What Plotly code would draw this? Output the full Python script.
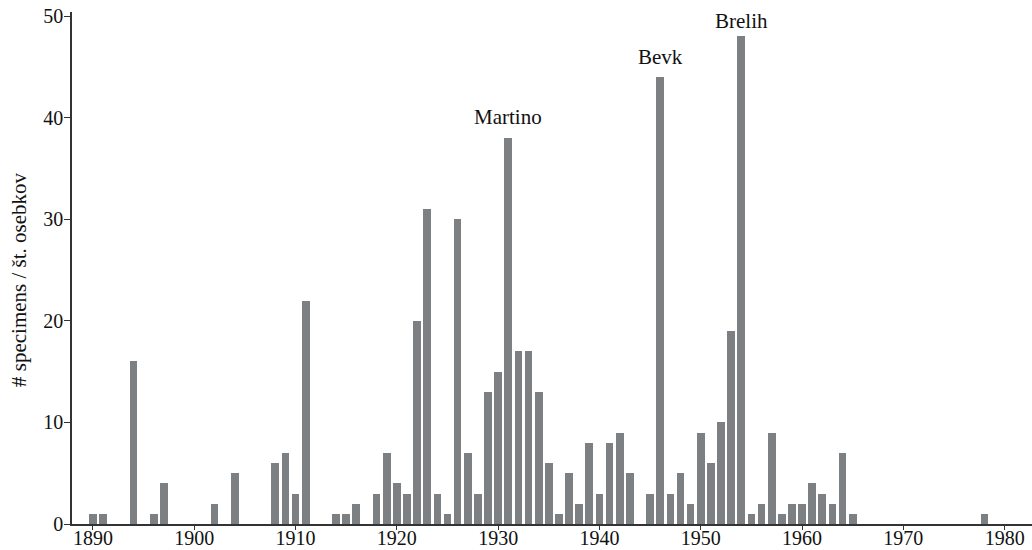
import plotly.graph_objects as go

years = [1890, 1891, 1894, 1896, 1897, 1902, 1904, 1908, 1909, 1910, 1911,
         1914, 1915, 1916, 1918, 1919, 1920, 1921, 1922, 1923, 1924, 1925,
         1926, 1927, 1928, 1929, 1930, 1931, 1932, 1933, 1934, 1935, 1936,
         1937, 1938, 1939, 1940, 1941, 1942, 1943, 1945, 1946, 1947, 1948,
         1949, 1950, 1951, 1952, 1953, 1954, 1955, 1956, 1957, 1958, 1959,
         1960, 1961, 1962, 1963, 1964, 1965, 1978]
counts = [1, 1, 16, 1, 4, 2, 5, 6, 7, 3, 22,
          1, 1, 2, 3, 7, 4, 3, 20, 31, 3, 1,
          30, 7, 3, 13, 15, 38, 17, 17, 13, 6, 1,
          5, 2, 8, 3, 8, 9, 5, 3, 44, 3, 5,
          2, 9, 6, 10, 19, 48, 1, 2, 9, 1, 2,
          2, 4, 3, 2, 7, 1, 1]

label_years = [1931, 1946, 1954]
label_texts = ["Martino", "Bevk", "Brelih"]
label_y = [38.7, 44.6, 48.1]

x_ticks = [1890, 1900, 1910, 1920, 1930, 1940, 1950, 1960, 1970, 1980]
y_ticks = [0, 10, 20, 30, 40, 50]
y_title = "# specimens / št. osebkov"

FONT = "Liberation Serif, Times New Roman, serif"

fig = go.Figure()
fig.add_trace(go.Bar(
    x=years, y=counts, width=0.76,
    marker=dict(color="rgb(125,128,131)", line=dict(width=0)),
    showlegend=False,
))

for yr, txt, ly in zip(label_years, label_texts, label_y):
    fig.add_annotation(x=yr, y=ly, text=txt, showarrow=False,
                       xanchor="center", yanchor="bottom",
                       font=dict(family=FONT, size=21, color="#111"))

# y-axis title placed as rotated annotation
fig.add_annotation(x=0, y=0.4766, xref="paper", yref="paper", xshift=-53,
                   text=y_title, textangle=-90, showarrow=False,
                   xanchor="center", yanchor="middle",
                   font=dict(family=FONT, size=21, color="#111"))

fig.update_layout(
    width=1032, height=550,
    margin=dict(l=72, r=0, t=12, b=26),
    plot_bgcolor="white", paper_bgcolor="white",
    font=dict(family=FONT, color="#111"),
    bargap=0,
)
fig.update_xaxes(
    range=[1887.93, 1982.7], tickvals=x_ticks,
    ticks="outside", ticklen=4, tickcolor="#333", tickwidth=1,
    showline=True, linecolor="#333", linewidth=1.5,
    showgrid=False, zeroline=False,
    tickfont=dict(family=FONT, size=20, color="#111"),
    ticklabelstandoff=-9, ticklabeloverflow="allow",
    automargin=False,
)
fig.update_yaxes(
    range=[0, 50.4], tickvals=y_ticks,
    ticks="outside", ticklen=6, tickcolor="#333", tickwidth=1,
    showline=True, linecolor="#333", linewidth=1.5,
    showgrid=False, zeroline=False,
    tickfont=dict(family=FONT, size=20, color="#111"),
    ticklabelstandoff=-3, ticklabeloverflow="allow",
    automargin=False,
)

fig.write_html(
    "out.html",
    config={"displayModeBar": False},
    post_script="document.body.style.margin='0';document.body.style.overflow='hidden';",
)
